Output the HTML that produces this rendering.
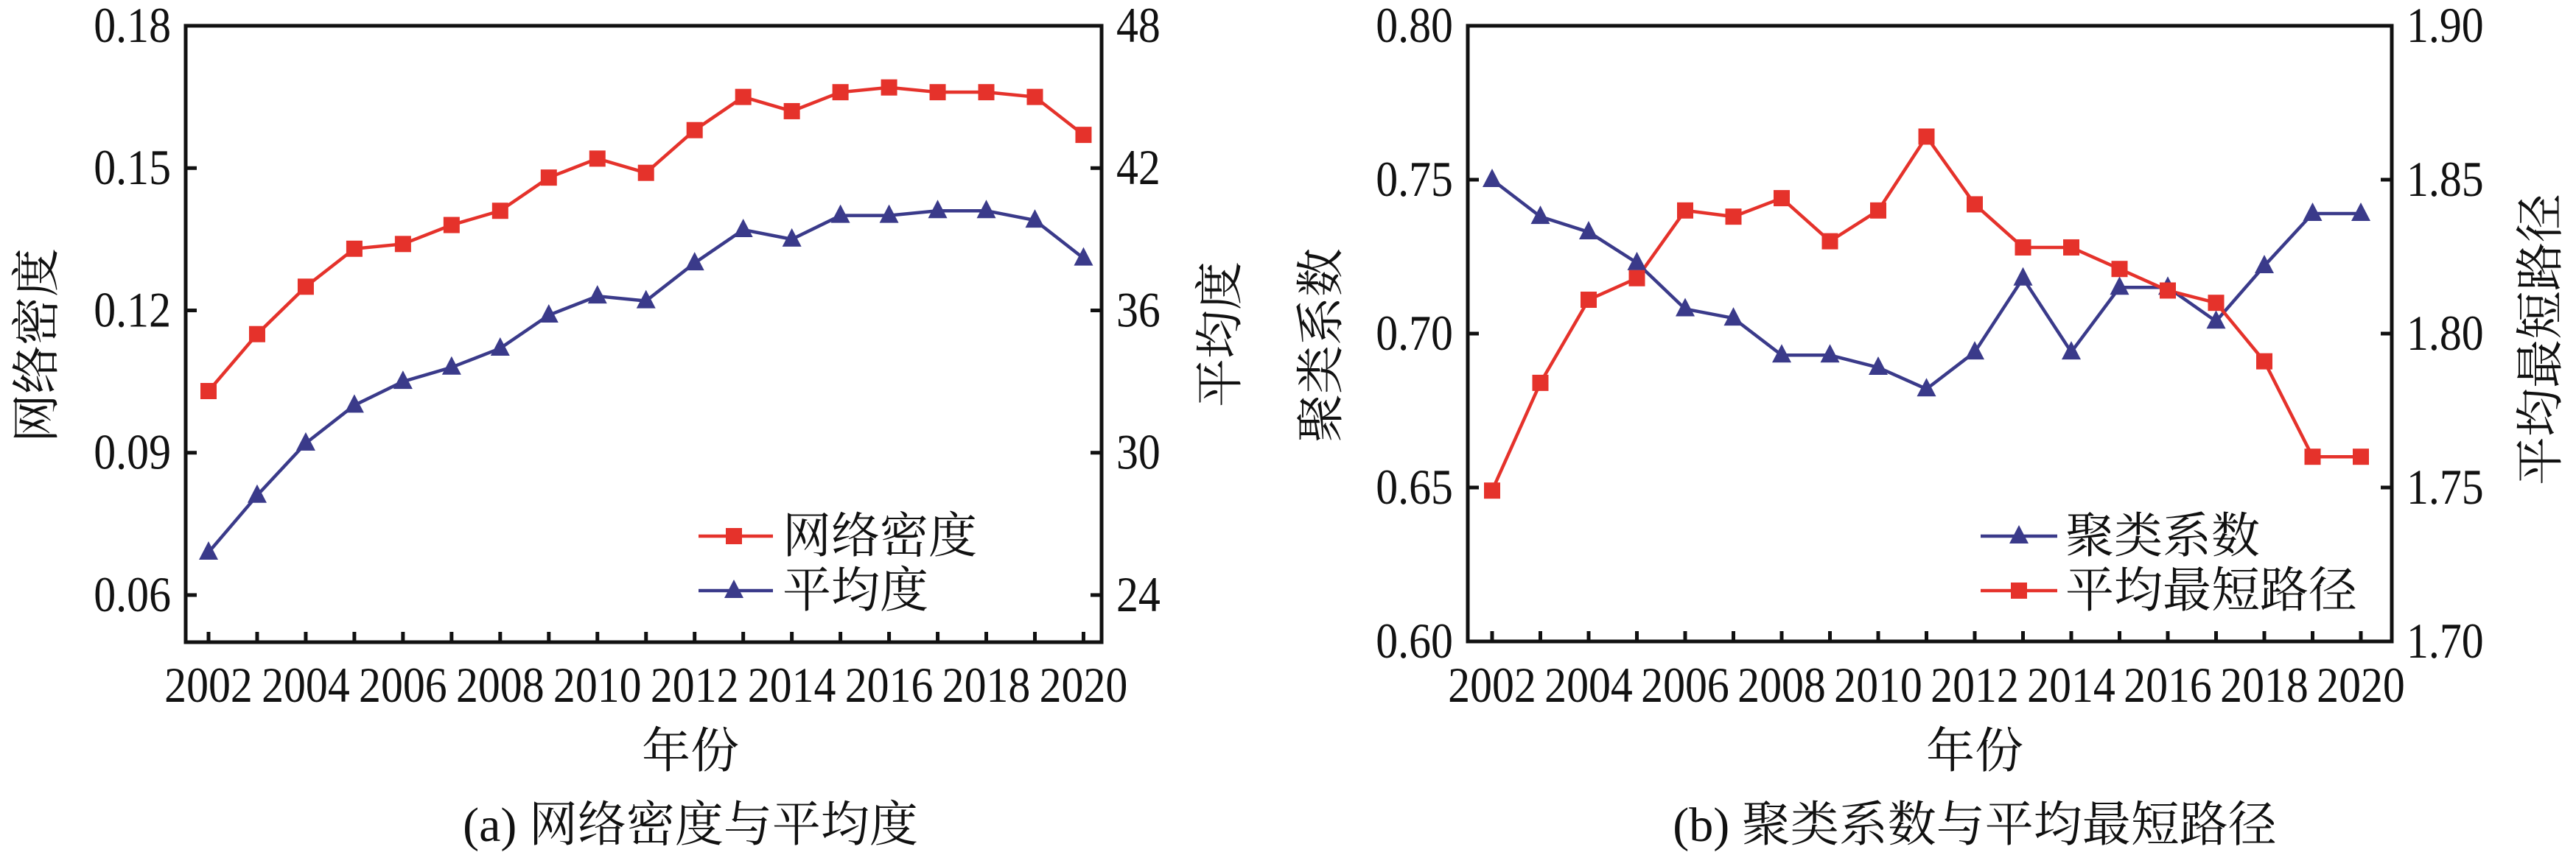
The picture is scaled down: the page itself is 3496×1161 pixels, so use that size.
<!DOCTYPE html>
<html><head><meta charset="utf-8"><style>
html,body{margin:0;padding:0;background:#fff;}
svg{display:block;}
svg text{font-family:"Liberation Serif","DejaVu Serif","Noto Serif CJK SC",serif;fill:#111;}
</style></head><body>
<svg id="s" width="3496" height="1161" viewBox="0 0 3496 1161" xmlns="http://www.w3.org/2000/svg"></svg>
<script>
const S=document.getElementById('s');let h='';
const R='#e5322b',B='#3a3a8a';
const FF='font-family="Liberation Serif, Noto Serif CJK SC, serif"';
function frame(L,Rt,T,Bo){h+=`<rect x="${L}" y="${T}" width="${Rt-L}" height="${Bo-T}" fill="none" stroke="#111" stroke-width="5"/>`;}
function sq(x,y){h+=`<rect x="${x-11}" y="${y-11}" width="22" height="22" fill="${R}"/>`;}
function tri(x,y){h+=`<polygon points="${x},${y-15} ${x-13},${y+10} ${x+13},${y+10}" fill="${B}"/>`;}
function line(pts,c){h+=`<polyline points="${pts.map(p=>p.join(',')).join(' ')}" fill="none" stroke="${c}" stroke-width="4.5"/>`;}
function txt(x,y,s,sz,anchor,extra){h+=`<text ${FF} x="${x}" y="${y}" font-size="${sz}" text-anchor="${anchor||'start'}" ${extra||''}>${s}</text>`;}
function sc(x){return 'transform="translate('+x+',0) scale(0.88,1) translate('+(-x)+',0)"';}
const years=[];for(let i=2002;i<=2020;i++)years.push(i);
function panel(o){
 const {L,Rt,T,Bo,x0,step}=o;
 frame(L,Rt,T,Bo);
 for(let i=0;i<19;i++){const x=x0+i*step;h+=`<line x1="${x}" y1="${Bo}" x2="${x}" y2="${Bo-14}" stroke="#111" stroke-width="5"/>`;
  if(i%2==0)txt(x,953,years[i],68,'middle',sc(x));}
 o.lt.forEach(([y,l])=>{h+=`<line x1="${L}" y1="${y}" x2="${L+15}" y2="${y}" stroke="#111" stroke-width="5"/>`;txt(L-20,y+22,l,68,'end',sc(L-20));});
 o.rt.forEach(([y,l])=>{h+=`<line x1="${Rt}" y1="${y}" x2="${Rt-15}" y2="${y}" stroke="#111" stroke-width="5"/>`;txt(Rt+20,y+22,l,68,'start',sc(Rt+20));});
}
function ya(v){return 808-(v-0.06)/0.03*193.25;}
panel({L:252,Rt:1495,T:35,Bo:872,x0:283,step:65.97,
 lt:[[ya(.18),'0.18'],[ya(.15),'0.15'],[ya(.12),'0.12'],[ya(.09),'0.09'],[ya(.06),'0.06']],
 rt:[[ya(.18),'48'],[ya(.15),'42'],[ya(.12),'36'],[ya(.09),'30'],[ya(.06),'24']]});
const dA=[.103,.115,.125,.133,.134,.138,.141,.148,.152,.149,.158,.165,.162,.166,.167,.166,.166,.165,.157];
const gA=[.069,.081,.092,.100,.105,.108,.112,.119,.123,.122,.130,.137,.135,.140,.140,.141,.141,.139,.131];
let pr=dA.map((v,i)=>[283+i*65.97,ya(v)]),pb=gA.map((v,i)=>[283+i*65.97,ya(v)]);
line(pr,R);line(pb,B);pr.forEach(p=>sq(...p));pb.forEach(p=>tri(...p));
line([[948,728],[1049,728]],R);sq(996,728);txt(1062,750,'网络密度',66);
line([[948,802],[1049,802]],B);tri(996,802);txt(1062,824,'平均度',66);
txt(937,1042,'年份',66,'middle');
txt(937,1142,'(a) 网络密度与平均度',66,'middle');
h+=`<text ${FF} x="0" y="0" font-size="66" text-anchor="middle" transform="translate(72,469) rotate(-90)">网络密度</text>`;
h+=`<text ${FF} x="0" y="0" font-size="66" text-anchor="middle" transform="translate(1678,454) rotate(-90)">平均度</text>`;
function yb(v){return 871-(v-0.60)/0.20*836;}
function yb2(v){return 871-(v-1.70)/0.20*836;}
panel({L:1992,Rt:3246,T:35,Bo:871,x0:2025,step:65.5,
 lt:[[yb(.80),'0.80'],[yb(.75),'0.75'],[yb(.70),'0.70'],[yb(.65),'0.65'],[yb(.60),'0.60']],
 rt:[[yb(.80),'1.90'],[yb(.75),'1.85'],[yb(.70),'1.80'],[yb(.65),'1.75'],[yb(.60),'1.70']]});
const cB=[.750,.738,.733,.723,.708,.705,.693,.693,.689,.682,.694,.718,.694,.715,.715,.704,.722,.739,.739];
const pB=[1.749,1.784,1.811,1.818,1.840,1.838,1.844,1.830,1.840,1.864,1.842,1.828,1.828,1.821,1.814,1.810,1.791,1.760,1.760];
let qb=cB.map((v,i)=>[2025+i*65.5,yb(v)]),qr=pB.map((v,i)=>[2025+i*65.5,yb2(v)]);
line(qb,B);line(qr,R);qb.forEach(p=>tri(...p));qr.forEach(p=>sq(...p));
line([[2688,728],[2792,728]],B);tri(2740,728);txt(2803,750,'聚类系数',66);
line([[2688,802],[2792,802]],R);sq(2740,802);txt(2803,824,'平均最短路径',66);
txt(2680,1042,'年份',66,'middle');
txt(2680,1142,'(b) 聚类系数与平均最短路径',66,'middle');
h+=`<text ${FF} x="0" y="0" font-size="66" text-anchor="middle" transform="translate(1815,469) rotate(-90)">聚类系数</text>`;
h+=`<text ${FF} x="0" y="0" font-size="66" text-anchor="middle" transform="translate(3470,461) rotate(-90)">平均最短路径</text>`;
S.innerHTML=h;
</script>
</body></html>
